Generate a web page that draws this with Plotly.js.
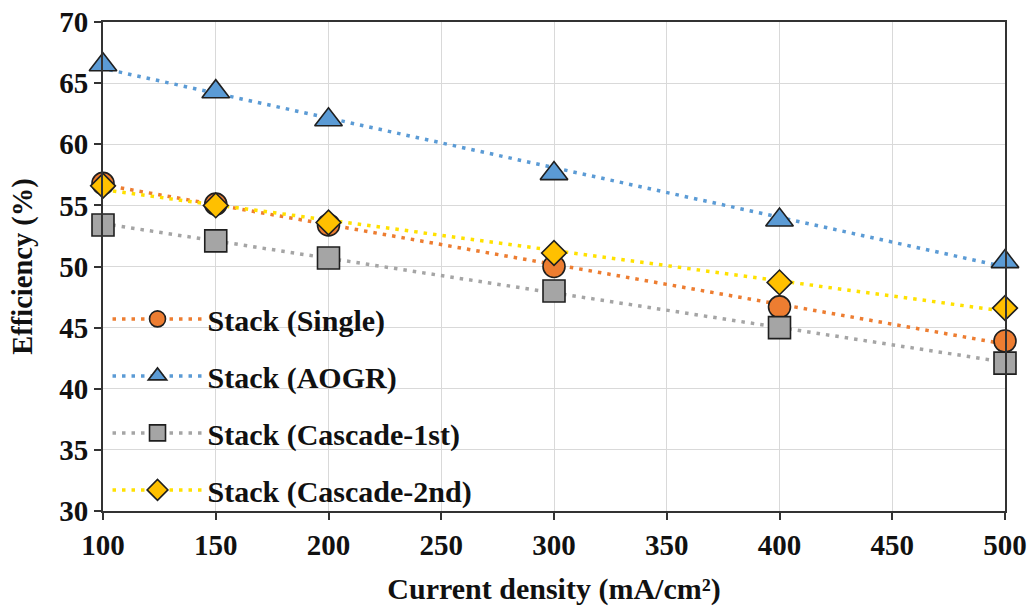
<!DOCTYPE html>
<html>
<head>
<meta charset="utf-8">
<script src="https://cdn.plot.ly/plotly-3.0.1.min.js"></script>
<style>
  html, body { margin: 0; padding: 0; background: #ffffff; }
  #chart { width: 1033px; height: 612px; }
</style>
</head>
<body>
<div id="chart"></div>
<script>
// ---- data ----
var currentDensity = [100, 150, 200, 300, 400, 500];
var seriesNames = ['Stack (Single)', 'Stack (AOGR)', 'Stack (Cascade-1st)', 'Stack (Cascade-2nd)'];
var effSingle   = [56.8, 55.1, 53.4, 50.0, 46.7, 43.9];
var effAOGR     = [66.5, 64.3, 62.0, 57.6, 53.8, 50.4];
var effCascade1 = [53.4, 52.1, 50.7, 48.0, 45.0, 42.1];
var effCascade2 = [56.6, 55.0, 53.6, 51.1, 48.7, 46.6];
var xTicks = [100, 150, 200, 250, 300, 350, 400, 450, 500];
var yTicks = [30, 35, 40, 45, 50, 55, 60, 65, 70];

// ---- styles ----
var markerColors = ['#ED7D31', '#5B9BD5', '#A5A5A5', '#FFC000'];
var lineColors   = ['#ED7D31', '#5B9BD5', '#A5A5A5', '#FFE100'];
var symbols      = ['circle', 'triangle-up', 'square', 'diamond'];
var sizes        = [22, 24, 22, 19];
var allSeries    = [effSingle, effAOGR, effCascade1, effCascade2];
var FONT = 'Liberation Serif, Times New Roman, serif';

function linFit(xs, ys) {
  var n = xs.length, mx = 0, my = 0;
  for (var i = 0; i < n; i++) { mx += xs[i]; my += ys[i]; }
  mx /= n; my /= n;
  var sxy = 0, sxx = 0;
  for (var j = 0; j < n; j++) { sxy += (xs[j] - mx) * (ys[j] - my); sxx += (xs[j] - mx) * (xs[j] - mx); }
  var b = sxy / sxx;
  return function (x) { return my + b * (x - mx); };
}

var xMin = xTicks[0], xMax = xTicks[xTicks.length - 1];
var trendX = [xMin - 100, xMax + 100];

var traces = [];
// trendlines (carry the legend entries; their endpoint markers fall outside the axes and are clipped)
allSeries.forEach(function (ys, k) {
  var f = linFit(currentDensity, ys);
  traces.push({
    x: trendX, y: trendX.map(f),
    type: 'scatter', mode: 'lines+markers',
    name: seriesNames[k], legendgroup: 'g' + k,
    line: { color: lineColors[k], width: 3.5, dash: '3.5px,6px' },
    marker: { symbol: symbols[k], size: sizes[k], color: markerColors[k], line: { color: '#1f1f1f', width: 1.6 } },
    cliponaxis: true, hoverinfo: 'skip'
  });
});
// data markers
allSeries.forEach(function (ys, k) {
  traces.push({
    x: currentDensity, y: ys,
    type: 'scatter', mode: 'markers',
    name: seriesNames[k], legendgroup: 'g' + k, showlegend: false,
    marker: { symbol: symbols[k], size: sizes[k], color: markerColors[k], line: { color: '#1f1f1f', width: 1.6 } },
    cliponaxis: false
  });
});

var axisCommon = {
  showline: true, linecolor: '#333333', linewidth: 2, mirror: true,
  showgrid: true, gridcolor: '#D9D9D9', gridwidth: 1,
  ticks: 'outside', ticklen: 7, tickwidth: 2, tickcolor: '#333333',
  zeroline: false,
  tickfont: { family: FONT, size: 29, color: '#111111', weight: 'bold' }
};

var layout = {
  width: 1033, height: 612,
  margin: { l: 103, r: 28, t: 22, b: 101 },
  paper_bgcolor: '#ffffff', plot_bgcolor: '#ffffff',
  showlegend: true,
  xaxis: Object.assign({}, axisCommon, {
    range: [xMin, xMax], tickvals: xTicks, ticktext: xTicks.map(String),
    title: { text: 'Current density (mA/cm²)', font: { family: FONT, size: 30, color: '#111111', weight: 'bold' }, standoff: 18 }
  }),
  yaxis: Object.assign({}, axisCommon, {
    range: [yTicks[0], yTicks[yTicks.length - 1]], tickvals: yTicks, ticktext: yTicks.map(String),
    title: { text: 'Efficiency (%)', font: { family: FONT, size: 28.5, color: '#111111', weight: 'bold' }, standoff: 18 }
  }),
  legend: {
    x: 0.005, y: 0.446, xanchor: 'left', yanchor: 'top',
    bgcolor: 'rgba(0,0,0,0)', borderwidth: 0,
    itemwidth: 90, tracegroupgap: 15,
    font: { family: FONT, size: 30, color: '#111111', weight: 'bold' }
  }
};

Plotly.newPlot('chart', traces, layout, { displayModeBar: false, staticPlot: true });
</script>
</body>
</html>
